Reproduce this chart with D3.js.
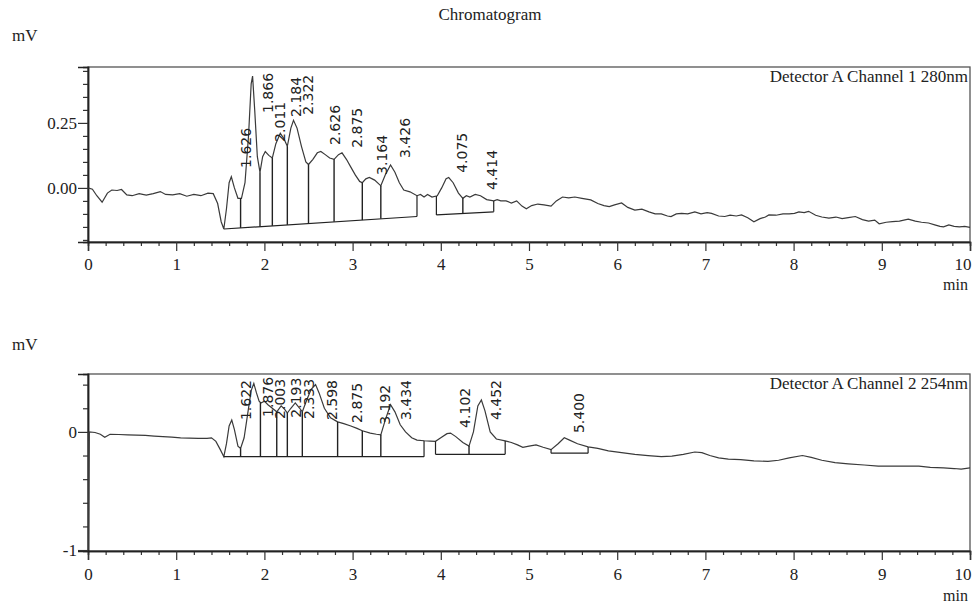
<!DOCTYPE html>
<html>
<head>
<meta charset="utf-8">
<script src="https://cdn.jsdelivr.net/npm/d3@7"></script>
<style>
  html, body { margin: 0; padding: 0; background: #fff; }
  svg { display: block; }
  .serif { font-family: "Liberation Serif", "Times New Roman", serif; fill: #222; }
  .plab { font-family: "DejaVu Sans", sans-serif; font-size: 14px; fill: #222; }
</style>
</head>
<body>
<svg id="chart" width="973" height="605"></svg>
<script>
// ---------------- DATA ----------------
const title = "Chromatogram";
const xTickLabels = ["0","1","2","3","4","5","6","7","8","9","10"];

// Channel 1 (280 nm)
const legend1 = "Detector A Channel 1 280nm";
const time1 = [0.00,0.05,0.10,0.16,0.22,0.27,0.33,0.38,0.44,0.50,0.58,0.66,0.74,0.82,0.88,0.96,1.04,1.12,1.20,1.28,1.36,1.42,1.47,1.51,1.54,1.57,1.60,1.625,1.66,1.70,1.74,1.78,1.82,1.85,1.866,1.89,1.92,1.95,1.98,2.01,2.05,2.09,2.13,2.18,2.22,2.26,2.30,2.33,2.37,2.42,2.47,2.50,2.55,2.60,2.64,2.69,2.74,2.79,2.84,2.88,2.93,2.98,3.03,3.08,3.11,3.15,3.19,3.25,3.32,3.37,3.43,3.48,3.53,3.58,3.65,3.73,3.77,3.81,3.85,3.90,3.96,4.01,4.06,4.09,4.14,4.20,4.25,4.29,4.33,4.39,4.45,4.52,4.60,4.64,4.68,4.74,4.80,4.86,4.92,4.97,5.03,5.10,5.17,5.25,5.31,5.38,5.45,5.52,5.60,5.70,5.78,5.85,5.91,5.97,6.05,6.12,6.20,6.28,6.36,6.43,6.50,6.57,6.61,6.67,6.73,6.80,6.88,6.95,7.02,7.07,7.15,7.22,7.28,7.35,7.41,7.48,7.55,7.62,7.68,7.72,7.80,7.88,7.95,8.01,8.06,8.12,8.17,8.25,8.32,8.40,8.48,8.55,8.62,8.70,8.78,8.85,8.92,8.97,9.05,9.12,9.20,9.30,9.38,9.45,9.53,9.60,9.66,9.70,9.76,9.82,9.88,9.94,10.0];
const signal1 = [0.000,-0.005,-0.030,-0.055,-0.020,-0.008,-0.010,-0.006,-0.027,-0.030,-0.022,-0.028,-0.022,-0.014,-0.025,-0.027,-0.022,-0.032,-0.025,-0.030,-0.020,-0.022,-0.060,-0.130,-0.158,-0.080,0.020,0.043,0.000,-0.040,-0.040,0.020,0.200,0.400,0.430,0.300,0.120,0.060,0.120,0.140,0.125,0.115,0.170,0.210,0.190,0.160,0.230,0.260,0.230,0.160,0.100,0.090,0.110,0.135,0.140,0.128,0.115,0.110,0.128,0.135,0.110,0.080,0.050,0.025,0.020,0.035,0.040,0.030,0.008,0.050,0.088,0.060,0.020,-0.008,-0.015,-0.030,-0.025,-0.035,-0.025,-0.035,-0.030,0.000,0.035,0.040,0.020,-0.020,-0.040,-0.030,-0.035,-0.025,-0.030,-0.045,-0.050,-0.045,-0.050,-0.050,-0.058,-0.050,-0.070,-0.080,-0.068,-0.062,-0.065,-0.070,-0.050,-0.035,-0.038,-0.035,-0.040,-0.046,-0.060,-0.068,-0.072,-0.065,-0.058,-0.075,-0.085,-0.082,-0.092,-0.100,-0.100,-0.108,-0.110,-0.100,-0.098,-0.100,-0.092,-0.100,-0.095,-0.098,-0.108,-0.110,-0.105,-0.108,-0.104,-0.115,-0.130,-0.118,-0.112,-0.104,-0.105,-0.100,-0.100,-0.098,-0.092,-0.095,-0.090,-0.105,-0.112,-0.116,-0.112,-0.118,-0.114,-0.110,-0.122,-0.128,-0.124,-0.138,-0.132,-0.130,-0.128,-0.120,-0.128,-0.132,-0.135,-0.142,-0.148,-0.150,-0.142,-0.148,-0.150,-0.148,-0.152];
const peakLabels1 = ["1.626","1.866","2.011","2.184","2.322","2.626","2.875","3.164","3.426","4.075","4.414"];
const peakTimes1 = [1.626,1.866,2.011,2.184,2.322,2.626,2.875,3.164,3.426,4.075,4.414];
const labelLevel1 = [0.077,0.288,0.177,0.273,0.281,0.165,0.154,0.050,0.115,0.058,-0.008];
const baseStart1 = [1.54, 3.95];
const baseEnd1 = [3.73, 4.60];
const baseStartLevel1 = [-0.158, -0.104];
const baseEndLevel1 = [-0.110, -0.092];
const drops1 = [1.73,1.95,2.09,2.26,2.50,2.79,3.11,3.32,4.25];
const yDomain1 = [-0.208, 0.465];
const yMajor1 = [0.00, 0.25];
const yMajorLabels1 = ["0.00","0.25"];

// Channel 2 (254 nm)
const legend2 = "Detector A Channel 2 254nm";
const time2 = [0.000,0.005,0.015,0.08,0.14,0.19,0.25,0.35,0.45,0.55,0.65,0.75,0.85,0.95,1.05,1.15,1.25,1.35,1.40,1.45,1.50,1.54,1.57,1.60,1.63,1.66,1.70,1.73,1.77,1.81,1.85,1.88,1.91,1.94,1.96,2.00,2.04,2.09,2.14,2.19,2.23,2.26,2.30,2.35,2.40,2.43,2.48,2.53,2.58,2.62,2.68,2.75,2.83,2.90,2.98,3.05,3.11,3.20,3.27,3.32,3.37,3.43,3.48,3.54,3.60,3.67,3.73,3.81,3.88,3.94,4.00,4.07,4.11,4.17,4.25,4.32,4.37,4.42,4.46,4.50,4.56,4.63,4.73,4.80,4.87,4.93,5.00,5.08,5.16,5.25,5.33,5.40,5.46,5.55,5.67,5.78,5.90,6.05,6.20,6.35,6.50,6.62,6.75,6.88,6.96,7.05,7.15,7.26,7.40,7.55,7.71,7.83,7.95,8.10,8.20,8.32,8.47,8.62,8.80,8.96,9.10,9.25,9.42,9.55,9.70,9.82,9.90,10.0];
const signal2 = [0.000,-1.000,0.000,-0.005,-0.020,-0.045,-0.020,-0.022,-0.025,-0.028,-0.030,-0.035,-0.040,-0.045,-0.050,-0.052,-0.055,-0.055,-0.050,-0.080,-0.150,-0.210,-0.100,0.050,0.100,0.020,-0.120,-0.140,-0.050,0.150,0.350,0.410,0.330,0.260,0.245,0.260,0.230,0.200,0.170,0.220,0.190,0.160,0.200,0.245,0.200,0.170,0.270,0.360,0.400,0.330,0.200,0.120,0.085,0.070,0.050,0.030,0.010,-0.010,-0.020,-0.025,0.100,0.230,0.170,0.060,0.000,-0.050,-0.070,-0.075,-0.078,-0.080,-0.050,-0.015,-0.010,-0.040,-0.090,-0.120,0.000,0.220,0.270,0.180,0.000,-0.060,-0.076,-0.090,-0.110,-0.130,-0.120,-0.110,-0.130,-0.150,-0.100,-0.050,-0.070,-0.100,-0.127,-0.140,-0.160,-0.175,-0.190,-0.200,-0.210,-0.205,-0.190,-0.170,-0.175,-0.200,-0.220,-0.230,-0.235,-0.245,-0.250,-0.240,-0.220,-0.200,-0.215,-0.240,-0.260,-0.270,-0.280,-0.290,-0.290,-0.290,-0.290,-0.300,-0.305,-0.310,-0.315,-0.305];
const peakLabels2 = ["1.622","1.876","2.003","2.193","2.333","2.598","2.875","3.192","3.434","4.102","4.452","5.400"];
const peakTimes2 = [1.622,1.876,2.003,2.193,2.333,2.598,2.875,3.192,3.434,4.102,4.452,5.400];
const labelLevel2 = [0.100,0.127,0.110,0.120,0.110,0.100,0.076,0.060,0.100,0.034,0.100,-0.010];
const baseStart2 = [1.54, 3.94, 5.25];
const baseEnd2 = [3.81, 4.73, 5.67];
const baseStartLevel2 = [-0.210, -0.190, -0.180];
const baseEndLevel2 = [-0.210, -0.190, -0.180];
const drops2 = [1.73,1.955,2.14,2.26,2.43,2.83,3.11,3.32,4.32];
const yDomain2 = [-1.008, 0.49];
const yMajor2 = [0, -1];
const yMajorLabels2 = ["0","-1"];

// ---------------- DRAW ----------------
const svg = d3.select("#chart");

svg.append("text").attr("class","serif").attr("x",490).attr("y",20)
  .attr("text-anchor","middle").style("font-size","17px").text(title);

function panel(cfg) {
  const {top, bottom, left, right, time, signal, yDomain, yMinorStep,
         yMajor, yMajorLabels, legend, peakLabels, peakTimes, labelLevel,
         baseStart, baseEnd, baseStartLevel, baseEndLevel, drops, mvY, xLabY, minY, id} = cfg;
  const x = d3.scaleLinear().domain([0,10]).range([left,right]);
  const y = d3.scaleLinear().domain(yDomain).range([bottom,top]);
  const g = svg.append("g");

  // frame
  g.append("rect").attr("x",left).attr("y",top).attr("width",right-left).attr("height",bottom-top)
    .attr("fill","none").attr("stroke","#555").attr("stroke-width",1.3);

  // x axis
  const xMinor = d3.range(0, 10.0001, 0.2).filter(v => Math.abs(v - Math.round(v)) > 1e-6);
  const xAxisMinor = d3.axisBottom(x).tickValues(xMinor).tickSize(4).tickFormat("");
  const xAxisMajor = d3.axisBottom(x).tickValues(d3.range(0,11)).tickSize(9)
    .tickFormat((d,i) => xTickLabels[i]);
  const gxm = g.append("g").attr("transform",`translate(0,${bottom})`).call(xAxisMinor);
  const gx = g.append("g").attr("transform",`translate(0,${bottom})`).call(xAxisMajor);
  [gxm, gx].forEach(a => {
    a.select(".domain").attr("stroke","#222").attr("stroke-width",1.5);
    a.selectAll(".tick line").attr("stroke","#333").attr("stroke-width",1.2);
  });
  gx.selectAll(".tick text").attr("class","serif").attr("y", null).attr("dy", null)
    .attr("transform", `translate(0,${xLabY - bottom})`)
    .style("font-size","17px").attr("fill","#222")
    .filter(d => d === 10).attr("text-anchor","end").attr("dx", 1);

  // y axis
  const n0 = Math.ceil(yDomain[0]/yMinorStep - 1e-6), n1 = Math.floor(yDomain[1]/yMinorStep + 1e-6);
  const yMinor = d3.range(n0, n1+1).map(k => +(k*yMinorStep).toFixed(4))
    .filter(v => !yMajor.some(m => Math.abs(m - v) < 1e-6));
  const yAxisMinor = d3.axisLeft(y).tickValues(yMinor).tickSize(5).tickFormat("");
  const yAxisMajor = d3.axisLeft(y).tickValues(yMajor).tickSize(10)
    .tickFormat((d,i) => yMajorLabels[i]);
  const gym = g.append("g").attr("transform",`translate(${left},0)`).call(yAxisMinor);
  const gy = g.append("g").attr("transform",`translate(${left},0)`).call(yAxisMajor);
  [gym, gy].forEach(a => {
    a.select(".domain").attr("stroke","#222").attr("stroke-width",1.5);
    a.selectAll(".tick line").attr("stroke","#333").attr("stroke-width",1.2);
  });
  gy.selectAll(".tick text").attr("class","serif").attr("x",-11).style("font-size","17px").attr("fill","#222");

  svg.append("text").attr("class","serif").attr("x",12).attr("y",mvY).style("font-size","17px").text("mV");
  svg.append("text").attr("class","serif").attr("x",right-2).attr("y",minY)
    .attr("text-anchor","end").style("font-size","16px").text("min");
  svg.append("text").attr("class","serif").attr("x",right-2).attr("y",top+15)
    .attr("text-anchor","end").style("font-size","17px").text(legend);

  // clip
  svg.append("clipPath").attr("id",id).append("rect")
    .attr("x",left).attr("y",top).attr("width",right-left).attr("height",bottom-top);

  const pts = time.map((t,i) => [t, signal[i]]);
  const interp = t => {
    const i = d3.bisector(d => d[0]).left(pts, t);
    if (i <= 0) return pts[0][1];
    if (i >= pts.length) return pts[pts.length-1][1];
    const a = pts[i-1], b = pts[i];
    return a[1] + (b[1]-a[1]) * (t - a[0]) / (b[0]-a[0]);
  };

  const gc = g.append("g").attr("clip-path",`url(#${id})`);
  gc.append("path").datum(pts)
    .attr("d", d3.line().x(d => x(d[0])).y(d => y(d[1])))
    .attr("fill","none").attr("stroke","#3a3a3a").attr("stroke-width",1.2);

  // integration baselines
  const baseAt = t => {
    for (let k = 0; k < baseStart.length; k++) {
      if (t >= baseStart[k] - 1e-6 && t <= baseEnd[k] + 1e-6)
        return baseStartLevel[k] + (baseEndLevel[k]-baseStartLevel[k])*(t-baseStart[k])/(baseEnd[k]-baseStart[k]);
    }
    return null;
  };
  baseStart.forEach((s,k) => {
    gc.append("line").attr("x1",x(s)).attr("y1",y(baseStartLevel[k]))
      .attr("x2",x(baseEnd[k])).attr("y2",y(baseEndLevel[k]))
      .attr("stroke","#222").attr("stroke-width",1.2);
    [[s, baseStartLevel[k]],[baseEnd[k], baseEndLevel[k]]].forEach(([t,b]) => {
      gc.append("line").attr("x1",x(t)).attr("x2",x(t)).attr("y1",y(b)).attr("y2",y(interp(t)))
        .attr("stroke","#222").attr("stroke-width",1.2);
    });
  });
  drops.forEach(t => {
    gc.append("line").attr("x1",x(t)).attr("x2",x(t)).attr("y1",y(baseAt(t))).attr("y2",y(interp(t)))
      .attr("stroke","#222").attr("stroke-width",1.4);
  });

  // peak labels
  g.selectAll("text.plab").data(peakLabels).enter().append("text")
    .attr("class","plab")
    .attr("transform",(d,i) => `translate(${x(peakTimes[i]) + 15},${y(labelLevel[i])}) rotate(-90)`)
    .attr("dominant-baseline","central")
    .text(d => d);
}

panel({id:"c1", top:67, bottom:242, left:88, right:970, time:time1, signal:signal1,
  yDomain:yDomain1, yMinorStep:0.05, yMajor:yMajor1, yMajorLabels:yMajorLabels1,
  legend:legend1, peakLabels:peakLabels1, peakTimes:peakTimes1, labelLevel:labelLevel1,
  baseStart:baseStart1, baseEnd:baseEnd1, baseStartLevel:baseStartLevel1, baseEndLevel:baseEndLevel1,
  drops:drops1, mvY:41, xLabY:270, minY:290});

panel({id:"c2", top:374, bottom:551, left:88, right:970, time:time2, signal:signal2,
  yDomain:yDomain2, yMinorStep:0.2, yMajor:yMajor2, yMajorLabels:yMajorLabels2,
  legend:legend2, peakLabels:peakLabels2, peakTimes:peakTimes2, labelLevel:labelLevel2,
  baseStart:baseStart2, baseEnd:baseEnd2, baseStartLevel:baseStartLevel2, baseEndLevel:baseEndLevel2,
  drops:drops2, mvY:350, xLabY:580, minY:601});
</script>
</body>
</html>
